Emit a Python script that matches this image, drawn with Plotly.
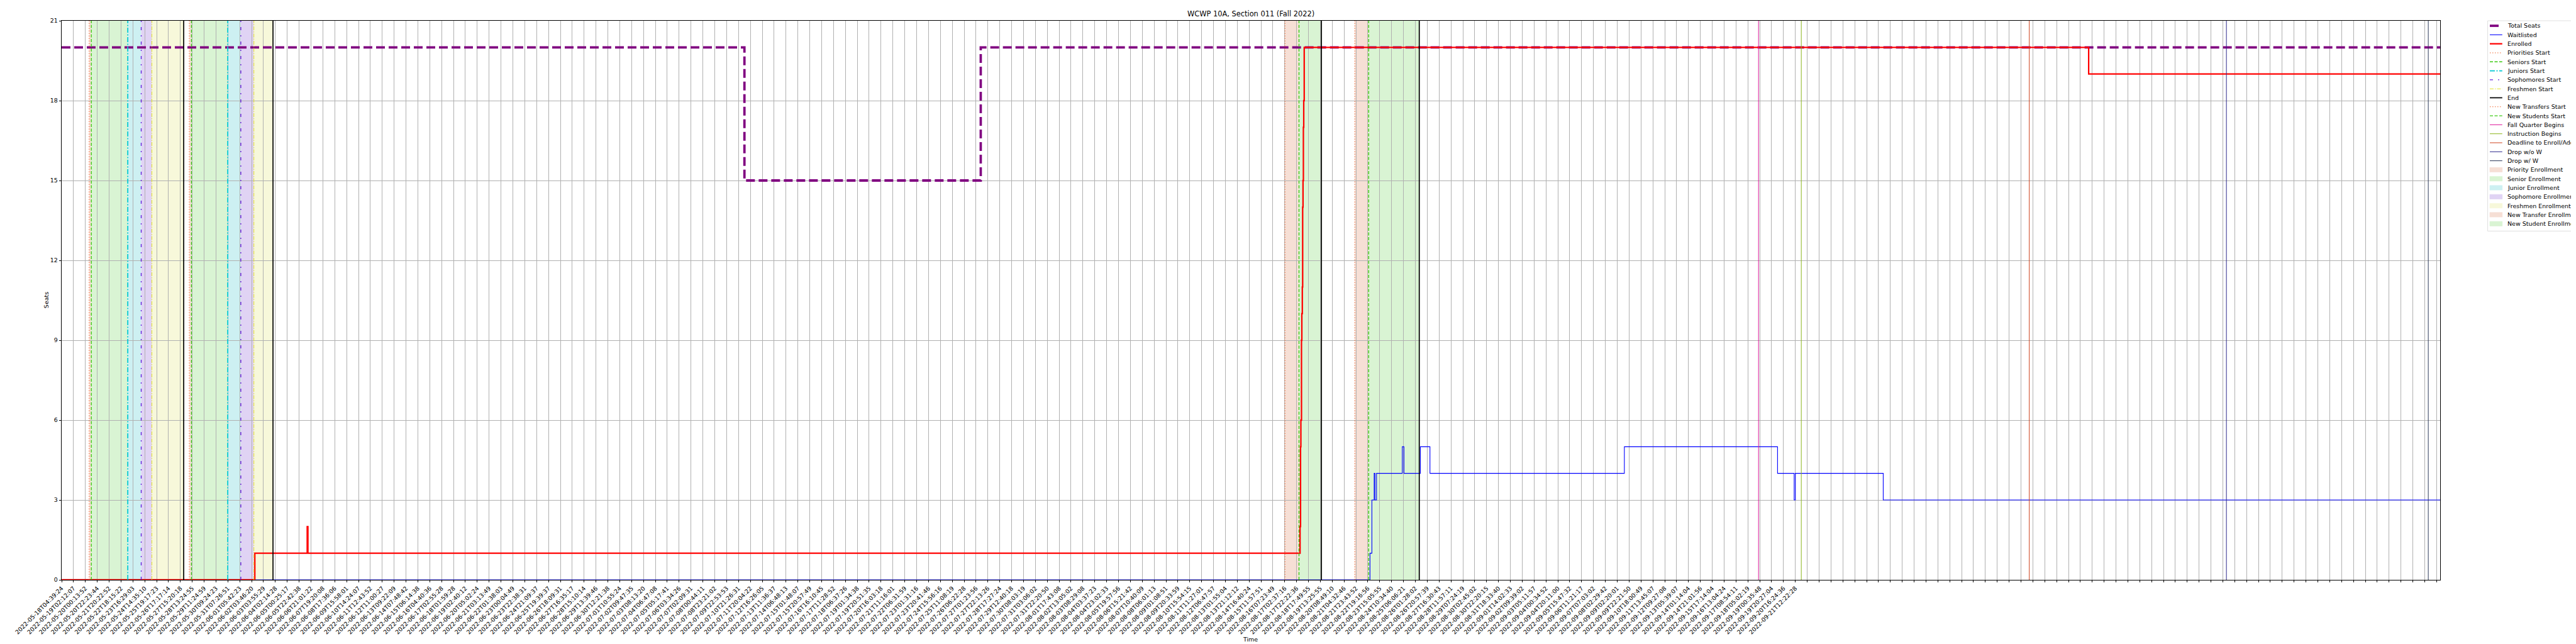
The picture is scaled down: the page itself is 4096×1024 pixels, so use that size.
import plotly.graph_objects as go

# ------------------------------------------------------------------ data
tick_labels = [
    "2022-05-18T04:39:24", "2022-05-19T02:12:07", "2022-05-20T00:13:52", "2022-05-20T22:23:44",
    "2022-05-21T20:22:52", "2022-05-22T18:15:22", "2022-05-23T16:29:03", "2022-05-24T14:35:10",
    "2022-05-25T19:17:23", "2022-05-26T17:17:14", "2022-05-27T15:20:18", "2022-05-28T13:24:55",
    "2022-05-29T11:24:59", "2022-05-30T09:24:23", "2022-05-31T07:26:51", "2022-06-01T05:42:23",
    "2022-06-02T03:46:20", "2022-06-03T03:55:29", "2022-06-04T02:14:28", "2022-06-05T00:25:17",
    "2022-06-05T22:42:38", "2022-06-06T21:01:22", "2022-06-07T19:20:08", "2022-06-08T17:36:06",
    "2022-06-09T15:58:01", "2022-06-10T14:24:07", "2022-06-11T12:43:52", "2022-06-12T11:00:27",
    "2022-06-13T09:22:09", "2022-06-14T07:48:42", "2022-06-15T06:14:38", "2022-06-16T04:40:36",
    "2022-06-17T02:55:28", "2022-06-18T01:59:28", "2022-06-19T02:40:12", "2022-06-20T05:02:24",
    "2022-06-21T03:13:49", "2022-06-22T01:38:03", "2022-06-23T00:04:49", "2022-06-23T22:38:31",
    "2022-06-24T21:09:37", "2022-06-25T19:39:37", "2022-06-26T18:09:31", "2022-06-27T16:35:17",
    "2022-06-28T15:10:14", "2022-06-29T13:39:46", "2022-06-30T12:21:38", "2022-07-01T10:55:24",
    "2022-07-02T09:47:35", "2022-07-03T08:13:20", "2022-07-04T06:47:08", "2022-07-05T05:17:41",
    "2022-07-06T03:34:26", "2022-07-07T02:09:31", "2022-07-08T00:44:11", "2022-07-08T23:21:02",
    "2022-07-09T22:53:53", "2022-07-10T21:26:31", "2022-07-11T20:04:22", "2022-07-12T16:26:05",
    "2022-07-13T11:36:37", "2022-07-14T06:48:13", "2022-07-15T01:48:07", "2022-07-15T20:57:49",
    "2022-07-16T16:10:45", "2022-07-17T11:28:52", "2022-07-18T06:37:26", "2022-07-19T01:34:38",
    "2022-07-19T20:51:35", "2022-07-20T16:03:18", "2022-07-21T11:16:01", "2022-07-22T06:31:59",
    "2022-07-23T01:31:16", "2022-07-23T20:41:46", "2022-07-24T15:56:16", "2022-07-25T11:08:19",
    "2022-07-26T06:22:28", "2022-07-27T01:23:56", "2022-07-27T22:13:26", "2022-07-28T17:27:24",
    "2022-07-29T12:40:18", "2022-07-30T08:03:19", "2022-07-31T03:06:02", "2022-07-31T22:20:50",
    "2022-08-01T17:43:08", "2022-08-02T13:05:02", "2022-08-03T08:29:08", "2022-08-04T03:37:23",
    "2022-08-04T23:02:33", "2022-08-05T19:57:56", "2022-08-06T15:21:42", "2022-08-07T10:40:09",
    "2022-08-08T06:01:13", "2022-08-09T01:08:51", "2022-08-09T20:33:59", "2022-08-10T15:54:15",
    "2022-08-11T11:27:01", "2022-08-12T06:47:57", "2022-08-13T01:55:04", "2022-08-13T21:12:12",
    "2022-08-14T16:40:24", "2022-08-15T11:57:51", "2022-08-16T07:23:49", "2022-08-17T02:37:16",
    "2022-08-17T22:22:36", "2022-08-18T17:49:55", "2022-08-19T13:25:55", "2022-08-20T08:49:10",
    "2022-08-21T04:32:46", "2022-08-21T23:43:52", "2022-08-22T19:16:56", "2022-08-23T15:05:55",
    "2022-08-24T10:34:40", "2022-08-25T06:06:21", "2022-08-26T01:28:02", "2022-08-26T20:57:39",
    "2022-08-27T16:30:43", "2022-08-28T11:57:11", "2022-08-29T07:24:19", "2022-08-30T02:45:02",
    "2022-08-30T22:20:15", "2022-08-31T18:33:40", "2022-09-01T14:02:33", "2022-09-02T09:39:02",
    "2022-09-03T05:11:57", "2022-09-04T00:34:52", "2022-09-04T20:11:00", "2022-09-05T15:47:32",
    "2022-09-06T11:21:17", "2022-09-07T07:03:02", "2022-09-08T02:29:42", "2022-09-09T02:20:01",
    "2022-09-09T22:21:50", "2022-09-10T18:00:49", "2022-09-11T13:45:07", "2022-09-12T09:27:08",
    "2022-09-13T05:39:07", "2022-09-14T01:14:04", "2022-09-14T21:01:56", "2022-09-15T17:14:04",
    "2022-09-16T13:04:24", "2022-09-17T08:54:11", "2022-09-18T05:02:19", "2022-09-19T00:35:48",
    "2022-09-19T20:27:04", "2022-09-20T16:24:36", "2022-09-21T12:22:28",
]
N_TICKS = 201          # tick positions on the index axis (labels still being read)
X_MAX = 200.3          # right end of the index axis

seats_x = [0, 57.5, 77.4, X_MAX]
seats_y = [20, 15, 20, 20]

enrolled_x = [0, 16.27, 20.68, 20.74, 104.29, 104.33, 104.36, 104.41, 104.44, 104.48,
              104.51, 104.54, 104.57, 104.60, 104.64, 170.7, X_MAX]
enrolled_y = [0, 1, 2, 1, 2, 5, 6, 9, 10, 11, 14, 15, 17, 18, 20, 19, 19]

wait_x = [0, 110.18, 110.34, 110.53, 110.60, 110.73, 112.90, 113.04, 114.42, 115.23,
          131.6, 144.5, 145.9, 146.0, 153.4, X_MAX]
wait_y = [0, 1, 3, 4, 3, 4, 5, 4, 5, 4, 5, 4, 3, 4, 3, 3]

priorities_start = [2.32, 10.75]
seniors_start = [2.50, 10.93]
juniors_start = [5.57, 13.99]
sophomores_start = [6.70, 15.09]
freshmen_start = [7.60, 16.19]
end_marks = [10.28, 17.80, 106.09, 114.33]
new_transfers_start = [103.02, 108.90]
new_students_start = [104.20, 110.07]
fall_quarter_begins = [142.9]
instruction_begins = [146.5]
deadline_add = [165.7]
drop_wo_w = [182.3]
drop_w_w = [199.3]

Y_MAX = 21
y_ticks = [0, 3, 6, 9, 12, 15, 18, 21]

# ------------------------------------------------------------------ geometry (output px)
W, H = 4096, 1024
S = 4096 / 6000
L, R, T, B = 131.7 * S, 5672 * S, 37.3 * S, 1339 * S
FONT = "DejaVu Sans"
FS = 13.9 * S


def pxx(x):
    return (x - L) / (R - L)


def pyy(y):
    return (B - y) / (B - T)


# styles
C_PRI, C_SEN, C_JUN, C_SOPH, C_FRESH = "#f0642d", "#3ccc14", "#00c8d4", "#6622dd", "#e3e32a"
C_FALL, C_INSTR, C_DEAD, C_DROP1, C_DROP2 = "#dc1a9a", "#8db51e", "#cf4520", "#2e2a8c", "#2d3a5a"
SH_PRI, SH_SEN, SH_JUN, SH_SOPH, SH_FRESH = "#f6dfd5", "#d9f4d3", "#cdf0f2", "#e0d3f4", "#f7f8da"

event_styles = [
    ("Priorities Start", priorities_start, C_PRI, 1.5, "1.5px,2.5px"),
    ("Seniors Start", seniors_start, C_SEN, 2.0, "5px,2.5px"),
    ("Juniors Start", juniors_start, C_JUN, 2.5, "8px,2.5px,2px,2.5px"),
    ("Sophomores Start", sophomores_start, C_SOPH, 2.0, "5px,8px,2px,8px"),
    ("Freshmen Start", freshmen_start, C_FRESH, 1.5, "6px,2px,1.5px,2px"),
    ("End", end_marks, "#000000", 2.5, "solid"),
    ("New Transfers Start", new_transfers_start, C_PRI, 1.5, "1.5px,2.5px"),
    ("New Students Start", new_students_start, C_SEN, 2.0, "5px,2.5px"),
    ("Fall Quarter Begins", fall_quarter_begins, C_FALL, 1.5, "solid"),
    ("Instruction Begins", instruction_begins, C_INSTR, 1.5, "solid"),
    ("Deadline to Enroll/Add", deadline_add, C_DEAD, 1.5, "solid"),
    ("Drop w/o W", drop_wo_w, C_DROP1, 1.5, "solid"),
    ("Drop w/ W", drop_w_w, C_DROP2, 1.5, "solid"),
]

spans = [
    ("Priority Enrollment", list(zip(priorities_start, seniors_start)), SH_PRI),
    ("Senior Enrollment", list(zip(seniors_start, juniors_start)), SH_SEN),
    ("Junior Enrollment", list(zip(juniors_start, sophomores_start)), SH_JUN),
    ("Sophomore Enrollment", list(zip(sophomores_start, freshmen_start)), SH_SOPH),
    ("Freshmen Enrollment", list(zip(freshmen_start, end_marks[:2])), SH_FRESH),
    ("New Transfer Enrollment", list(zip(new_transfers_start, new_students_start)), SH_PRI),
    ("New Student Enrollment", list(zip(new_students_start, end_marks[2:])), SH_SEN),
]

fig = go.Figure()

# data lines
fig.add_trace(go.Scatter(x=seats_x, y=seats_y, mode="lines", line_shape="hv",
                         line=dict(color="#800080", width=5.5 * S, dash="14px,6px"),
                         name="Total Seats", showlegend=False, hoverinfo="skip"))
fig.add_trace(go.Scatter(x=wait_x, y=wait_y, mode="lines", line_shape="hv",
                         line=dict(color="#0000ff", width=1.6 * S),
                         name="Waitlisted", showlegend=False, hoverinfo="skip"))
fig.add_trace(go.Scatter(x=enrolled_x, y=enrolled_y, mode="lines", line_shape="hv",
                         line=dict(color="#ff0000", width=3.3 * S),
                         name="Enrolled", showlegend=False, hoverinfo="skip"))

# vertical event lines
for name, xs, col, lw, dash in event_styles:
    vx, vy = [], []
    for v in xs:
        vx += [v, v, None]
        vy += [0, Y_MAX, None]
    fig.add_trace(go.Scatter(x=vx, y=vy, mode="lines", name=name, showlegend=False,
                             line=dict(color=col, width=lw * S, dash=dash), hoverinfo="skip"))

shapes = []
for name, pairs, col in spans:
    for a, b in pairs:
        shapes.append(dict(type="rect", xref="x", yref="y", x0=a, x1=b, y0=0, y1=Y_MAX,
                           fillcolor=col, line=dict(width=0), layer="below"))

# ---------------- manual legend (matches matplotlib layout)
annotations = []
leg_left = 5782.7 * S
leg_top = 37.3 * S
leg_bottom = 527 * S
shapes.append(dict(type="rect", xref="paper", yref="paper",
                   x0=pxx(leg_left), x1=pxx(W + 20), y0=pyy(leg_bottom), y1=pyy(leg_top),
                   fillcolor="rgba(255,255,255,0.8)", line=dict(color="#d0d0d0", width=1 * S),
                   layer="above"))
h0, h1, tx = 5787.7 * S, 5816.7 * S, 5827.3 * S
row0, drow = 49 * S, 20.95 * S
legend_lines = [("Total Seats", "#800080", 5.5, "14px,6px"),
                ("Waitlisted", "#0000ff", 1.6, "solid"),
                ("Enrolled", "#ff0000", 3.3, "solid")]
legend_lines += [(n, c, lw, d) for n, _, c, lw, d in event_styles]
items = []
for n, c, lw, d in legend_lines:
    items.append(("line", n, c, lw, d))
for n, _, c in spans:
    items.append(("patch", n, c, None, None))
for i, (kind, n, c, lw, d) in enumerate(items):
    yc = row0 + drow * i
    if kind == "line":
        shapes.append(dict(type="line", xref="paper", yref="paper", x0=pxx(h0), x1=pxx(h1),
                           y0=pyy(yc), y1=pyy(yc), line=dict(color=c, width=lw * S, dash=d),
                           layer="above"))
    else:
        shapes.append(dict(type="rect", xref="paper", yref="paper", x0=pxx(h0), x1=pxx(h1),
                           y0=pyy(yc + 5.3 * S), y1=pyy(yc - 5.3 * S), fillcolor=c,
                           line=dict(color=c, width=1 * S), layer="above"))
    annotations.append(dict(text=n, xref="paper", yref="paper", x=pxx(tx), y=pyy(yc),
                            xanchor="left", yanchor="middle", showarrow=False,
                            font=dict(family=FONT, size=FS, color="#000000"), borderpad=0))

# title & axis titles
annotations.append(dict(text="WCWP 10A, Section 011 (Fall 2022)", xref="paper", yref="paper",
                        x=0.5, y=pyy(33 * S), xanchor="center", yanchor="bottom", showarrow=False,
                        font=dict(family=FONT, size=16.7 * S, color="#000000"), borderpad=0))
annotations.append(dict(text="Seats", xref="paper", yref="paper", x=pxx(96 * S), y=0.5,
                        xanchor="center", yanchor="middle", textangle=-90, showarrow=False,
                        font=dict(family=FONT, size=FS, color="#000000")))
annotations.append(dict(text="Time", xref="paper", yref="paper", x=pxx(2900 * S),
                        y=pyy(1476.7 * S), xanchor="center", yanchor="middle", showarrow=False,
                        font=dict(family=FONT, size=FS, color="#000000")))

tick_vals = list(range(N_TICKS))
tick_text = [tick_labels[i] if i < len(tick_labels) else "" for i in tick_vals]

fig.update_layout(
    width=W, height=H,
    margin=dict(l=L, r=W - R, t=T, b=H - B, pad=0),
    paper_bgcolor="white", plot_bgcolor="white",
    shapes=shapes, annotations=annotations, showlegend=False,
    font=dict(family=FONT, size=FS, color="#000000"),
)
fig.update_xaxes(range=[0, X_MAX], tickmode="array", tickvals=tick_vals, ticktext=tick_text,
                 tickangle=-45, tickfont=dict(family=FONT, size=FS, color="#000000"),
                 showgrid=True, gridcolor="#b0b0b0", gridwidth=0.8 * S,
                 ticks="outside", ticklen=4.9 * S, tickwidth=0.8 * S, tickcolor="#000000",
                 showline=True, linecolor="#000000", linewidth=1.1 * S, mirror=True,
                 zeroline=False, automargin=False)
fig.update_yaxes(range=[0, Y_MAX], tickmode="array", tickvals=y_ticks,
                 ticktext=[str(v) for v in y_ticks],
                 tickfont=dict(family=FONT, size=FS, color="#000000"),
                 showgrid=True, gridcolor="#b0b0b0", gridwidth=0.8 * S,
                 ticks="outside", ticklen=4.9 * S, tickwidth=0.8 * S, tickcolor="#000000",
                 showline=True, linecolor="#000000", linewidth=1.1 * S, mirror=True,
                 zeroline=False, automargin=False)

fig.write_html("out.html")
